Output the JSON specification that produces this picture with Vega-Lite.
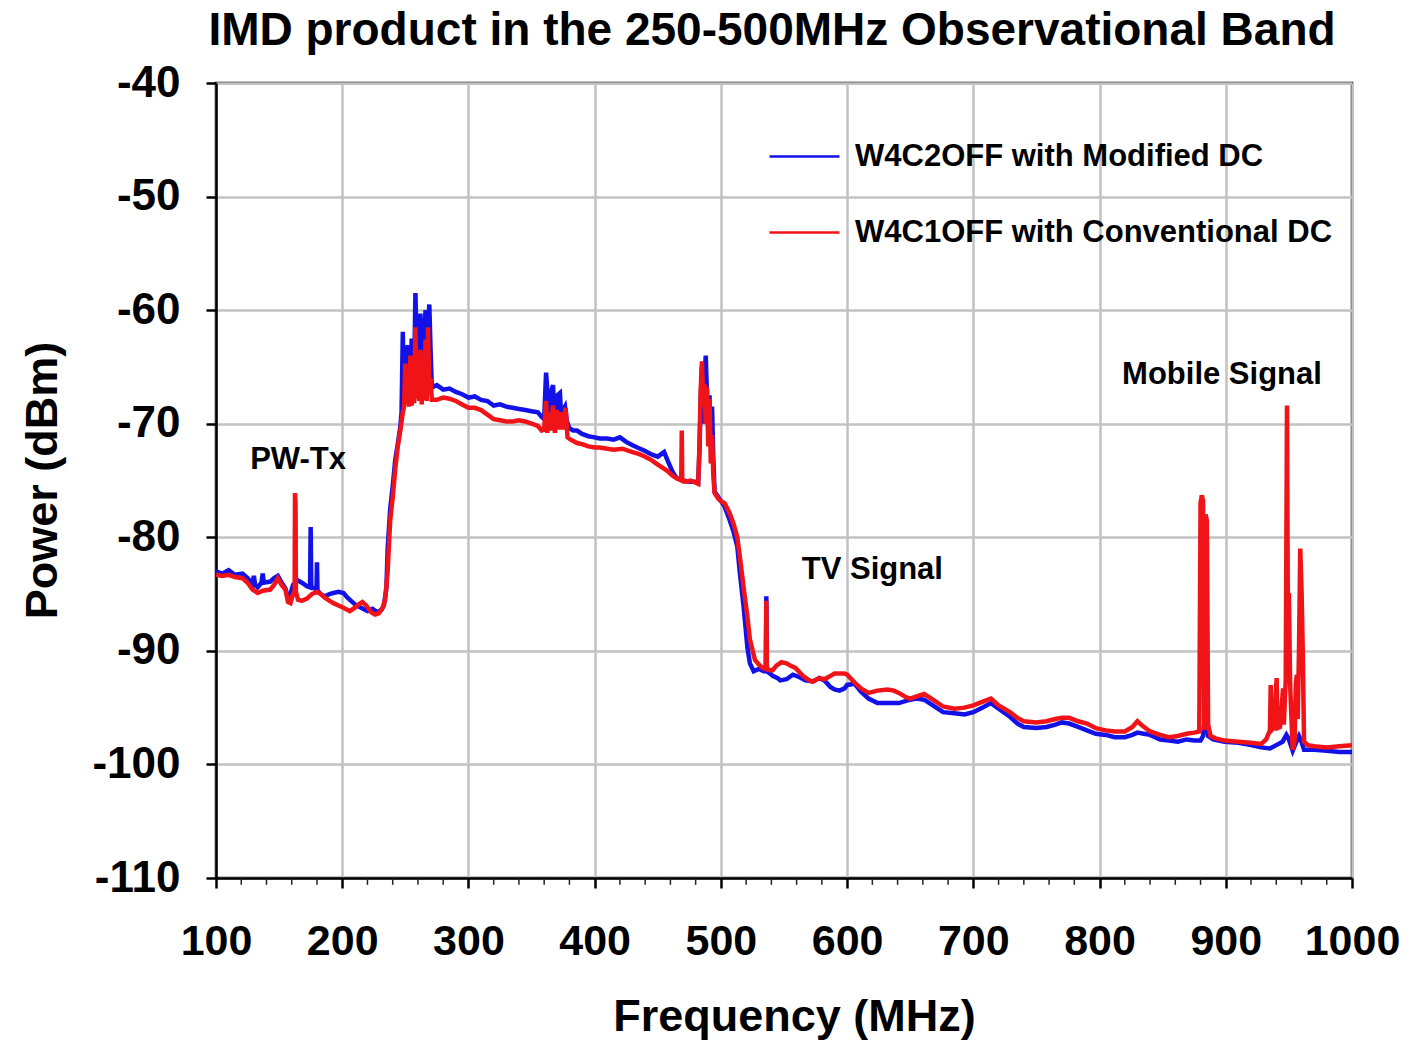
{
"$schema": "https://vega.github.io/schema/vega-lite/v6.json",
"width": 1136, "height": 795,
"autosize": {"type": "none"},
"padding": {"left": 216, "top": 83, "right": 71, "bottom": 162},
"background": "white",
"title": {"text": "IMD product in the 250-500MHz Observational Band", "font": "Liberation Sans", "fontSize": 46, "fontWeight": "bold", "color": "black", "anchor": "middle", "offset": 6, "dx": -12},
"config": {
  "font": "Liberation Sans",
  "view": {"stroke": "black", "strokeWidth": 2.5},
  "axis": {"gridColor": "#c2c2c2", "gridWidth": 2.5, "gridOpacity": 1, "domainColor": "black", "domainWidth": 2.5, "tickColor": "black", "tickWidth": 2.5, "labelColor": "black", "titleColor": "black", "labelFont": "Liberation Sans", "titleFont": "Liberation Sans", "labelFontWeight": "bold", "titleFontWeight": "bold"}
},
"datasets": {
  "blue": [
    {"f":100,"v":-83.0},{"f":105,"v":-83.2},{"f":110,"v":-82.9},{"f":115,"v":-83.3},{"f":121,"v":-83.2},{"f":125,"v":-83.6},{"f":129,"v":-84.1},{"f":130,"v":-83.4},{"f":131,"v":-84.2},{"f":133,"v":-84.4},{"f":136,"v":-84.0},{"f":137,"v":-83.2},{"f":138,"v":-84.0},{"f":143,"v":-83.9},{"f":146,"v":-83.6},{"f":149,"v":-83.4},{"f":152,"v":-84.0},{"f":155,"v":-84.5},{"f":157,"v":-85.3},{"f":159,"v":-85.0},{"f":161,"v":-84.2},{"f":163,"v":-84.0},{"f":165,"v":-83.8},{"f":168,"v":-84.0},{"f":172,"v":-84.3},{"f":174.5,"v":-84.4},{"f":175,"v":-79.1},{"f":175.5,"v":-84.4},{"f":178,"v":-84.5},{"f":179.6,"v":-84.6},{"f":180,"v":-82.2},{"f":180.4,"v":-84.7},{"f":183,"v":-85.0},{"f":186,"v":-85.2},{"f":190,"v":-85.0},{"f":193,"v":-84.9},{"f":197,"v":-84.8},{"f":201,"v":-84.9},{"f":204,"v":-85.3},{"f":207,"v":-85.6},{"f":211,"v":-86.0},{"f":215,"v":-86.2},{"f":220,"v":-86.5},{"f":224,"v":-86.3},{"f":228,"v":-86.6},{"f":231,"v":-86.4},{"f":233,"v":-86.0},{"f":235,"v":-84.5},{"f":236,"v":-81.0},{"f":238,"v":-77.5},{"f":240,"v":-75.5},{"f":242,"v":-73.2},{"f":244,"v":-71.8},{"f":246,"v":-70.3},{"f":247,"v":-69.0},{"f":248,"v":-61.9},{"f":248.6,"v":-67.8},{"f":250,"v":-67.5},{"f":251,"v":-63.5},{"f":252,"v":-63.1},{"f":253,"v":-67.2},{"f":254.5,"v":-66.5},{"f":255,"v":-62.5},{"f":256,"v":-66.8},{"f":257,"v":-65.5},{"f":258,"v":-58.5},{"f":259,"v":-63.5},{"f":260,"v":-66.2},{"f":261,"v":-64.0},{"f":262,"v":-60.3},{"f":263,"v":-65.5},{"f":264,"v":-66.5},{"f":265,"v":-62.5},{"f":266,"v":-60.0},{"f":267,"v":-65.0},{"f":268,"v":-62.0},{"f":269,"v":-59.5},{"f":270,"v":-63.5},{"f":271,"v":-66.8},{"f":275,"v":-66.6},{"f":280,"v":-67.0},{"f":285,"v":-66.9},{"f":290,"v":-67.2},{"f":295,"v":-67.4},{"f":300,"v":-67.7},{"f":305,"v":-67.6},{"f":310,"v":-67.9},{"f":315,"v":-68.0},{"f":320,"v":-68.4},{"f":325,"v":-68.3},{"f":330,"v":-68.5},{"f":335,"v":-68.6},{"f":340,"v":-68.7},{"f":345,"v":-68.8},{"f":350,"v":-68.9},{"f":355,"v":-69.0},{"f":358,"v":-69.4},{"f":360,"v":-69.6},{"f":361.5,"v":-65.5},{"f":362.5,"v":-67.0},{"f":363.5,"v":-69.8},{"f":365,"v":-67.5},{"f":367,"v":-66.6},{"f":368,"v":-69.0},{"f":369.5,"v":-70.2},{"f":370.5,"v":-67.5},{"f":372.5,"v":-67.3},{"f":373.5,"v":-69.5},{"f":375,"v":-68.8},{"f":376.5,"v":-68.5},{"f":378,"v":-69.8},{"f":380,"v":-70.4},{"f":383,"v":-70.6},{"f":386,"v":-70.6},{"f":390,"v":-70.9},{"f":395,"v":-71.1},{"f":400,"v":-71.2},{"f":404,"v":-71.3},{"f":410,"v":-71.3},{"f":415,"v":-71.4},{"f":420,"v":-71.2},{"f":425,"v":-71.6},{"f":430,"v":-71.9},{"f":436,"v":-72.2},{"f":440,"v":-72.4},{"f":445,"v":-72.7},{"f":450,"v":-72.9},{"f":455,"v":-72.5},{"f":458,"v":-73.3},{"f":462,"v":-74.3},{"f":465,"v":-74.8},{"f":470,"v":-75.0},{"f":475,"v":-75.1},{"f":480,"v":-75.1},{"f":482,"v":-75.2},{"f":483,"v":-72.5},{"f":484,"v":-68.0},{"f":485,"v":-65.0},{"f":486,"v":-70.0},{"f":487,"v":-66.0},{"f":488,"v":-64.0},{"f":489,"v":-67.5},{"f":490,"v":-70.5},{"f":491,"v":-67.5},{"f":492,"v":-72.0},{"f":493,"v":-68.5},{"f":494,"v":-73.0},{"f":495,"v":-76.0},{"f":497,"v":-76.3},{"f":500,"v":-76.8},{"f":503,"v":-77.3},{"f":507,"v":-78.5},{"f":510,"v":-79.5},{"f":513,"v":-80.8},{"f":515,"v":-83.1},{"f":518,"v":-86.1},{"f":521,"v":-89.7},{"f":523,"v":-91.1},{"f":526,"v":-91.8},{"f":530,"v":-91.6},{"f":534,"v":-91.8},{"f":535.6,"v":-91.8},{"f":536,"v":-85.2},{"f":536.4,"v":-91.8},{"f":539,"v":-92.0},{"f":541,"v":-92.2},{"f":545,"v":-92.4},{"f":547,"v":-92.6},{"f":552,"v":-92.5},{"f":557,"v":-92.1},{"f":562,"v":-92.3},{"f":567,"v":-92.6},{"f":573,"v":-92.7},{"f":578,"v":-92.4},{"f":582,"v":-92.6},{"f":587,"v":-93.2},{"f":590,"v":-93.4},{"f":594,"v":-93.5},{"f":598,"v":-93.3},{"f":600,"v":-93.0},{"f":606,"v":-92.9},{"f":611,"v":-93.6},{"f":617,"v":-94.2},{"f":624,"v":-94.6},{"f":632,"v":-94.6},{"f":641,"v":-94.6},{"f":650,"v":-94.3},{"f":655,"v":-94.2},{"f":661,"v":-94.3},{"f":668,"v":-94.8},{"f":676,"v":-95.4},{"f":685,"v":-95.5},{"f":693,"v":-95.6},{"f":700,"v":-95.4},{"f":707,"v":-95.0},{"f":714,"v":-94.6},{"f":720,"v":-95.1},{"f":729,"v":-95.8},{"f":735,"v":-96.4},{"f":740,"v":-96.7},{"f":750,"v":-96.8},{"f":758,"v":-96.7},{"f":765,"v":-96.5},{"f":770,"v":-96.3},{"f":776,"v":-96.4},{"f":783,"v":-96.7},{"f":790,"v":-97.0},{"f":797,"v":-97.3},{"f":805,"v":-97.4},{"f":812,"v":-97.6},{"f":820,"v":-97.6},{"f":826,"v":-97.4},{"f":830,"v":-97.2},{"f":835,"v":-97.3},{"f":840,"v":-97.4},{"f":848,"v":-97.8},{"f":855,"v":-97.9},{"f":862,"v":-98.0},{"f":869,"v":-97.8},{"f":875,"v":-97.9},{"f":880,"v":-97.9},{"f":882,"v":-97.5},{"f":884,"v":-95.2},{"f":885,"v":-96.5},{"f":886,"v":-97.5},{"f":890,"v":-97.8},{"f":899,"v":-98.0},{"f":910,"v":-98.1},{"f":920,"v":-98.3},{"f":928,"v":-98.5},{"f":935,"v":-98.6},{"f":940,"v":-98.3},{"f":945,"v":-98.0},{"f":948,"v":-97.4},{"f":950,"v":-97.8},{"f":953,"v":-98.8},{"f":956,"v":-98.0},{"f":958,"v":-97.5},{"f":960,"v":-98.0},{"f":962,"v":-98.7},{"f":970,"v":-98.7},{"f":980,"v":-98.8},{"f":990,"v":-98.9},{"f":1000,"v":-98.9}
  ],
  "red": [
    {"f":100,"v":-83.3},{"f":105,"v":-83.4},{"f":110,"v":-83.3},{"f":115,"v":-83.5},{"f":121,"v":-83.6},{"f":125,"v":-84.0},{"f":129,"v":-84.6},{"f":133,"v":-84.9},{"f":137,"v":-84.7},{"f":143,"v":-84.6},{"f":146,"v":-84.2},{"f":149,"v":-83.6},{"f":152,"v":-84.2},{"f":155,"v":-84.6},{"f":157,"v":-85.7},{"f":159,"v":-85.8},{"f":161,"v":-85.0},{"f":162.3,"v":-84.8},{"f":162.6,"v":-76.1},{"f":163,"v":-77.0},{"f":163.3,"v":-84.8},{"f":165,"v":-85.5},{"f":168,"v":-85.6},{"f":172,"v":-85.4},{"f":176,"v":-85.0},{"f":180,"v":-84.8},{"f":183,"v":-85.0},{"f":186,"v":-85.3},{"f":190,"v":-85.6},{"f":193,"v":-85.8},{"f":197,"v":-86.0},{"f":201,"v":-86.2},{"f":206,"v":-86.5},{"f":210,"v":-86.2},{"f":213,"v":-85.9},{"f":216,"v":-85.7},{"f":219,"v":-86.0},{"f":223,"v":-86.6},{"f":226,"v":-86.8},{"f":229,"v":-86.7},{"f":232,"v":-86.2},{"f":234,"v":-85.5},{"f":236,"v":-83.0},{"f":238,"v":-78.5},{"f":240,"v":-76.5},{"f":242,"v":-74.0},{"f":244,"v":-72.0},{"f":246,"v":-70.6},{"f":248,"v":-69.0},{"f":249,"v":-68.5},{"f":250,"v":-64.7},{"f":251,"v":-68.3},{"f":252,"v":-67.0},{"f":253,"v":-68.5},{"f":254,"v":-64.0},{"f":255,"v":-68.4},{"f":256,"v":-66.0},{"f":257,"v":-68.2},{"f":258,"v":-61.5},{"f":259,"v":-67.8},{"f":260,"v":-65.5},{"f":261,"v":-68.0},{"f":262,"v":-63.5},{"f":263,"v":-68.3},{"f":264,"v":-64.0},{"f":265,"v":-67.9},{"f":266,"v":-62.6},{"f":267,"v":-68.0},{"f":268,"v":-61.5},{"f":269,"v":-67.0},{"f":270,"v":-66.0},{"f":271,"v":-67.9},{"f":275,"v":-67.9},{"f":280,"v":-67.7},{"f":285,"v":-67.8},{"f":290,"v":-68.0},{"f":295,"v":-68.3},{"f":300,"v":-68.6},{"f":305,"v":-68.6},{"f":310,"v":-68.8},{"f":315,"v":-69.2},{"f":320,"v":-69.6},{"f":325,"v":-69.7},{"f":330,"v":-69.8},{"f":335,"v":-69.8},{"f":340,"v":-69.7},{"f":345,"v":-69.8},{"f":350,"v":-70.0},{"f":355,"v":-70.2},{"f":358,"v":-70.6},{"f":360,"v":-70.5},{"f":361.5,"v":-68.0},{"f":362.5,"v":-70.8},{"f":364,"v":-69.0},{"f":365,"v":-70.6},{"f":367,"v":-68.4},{"f":368.5,"v":-70.8},{"f":370,"v":-68.8},{"f":371.5,"v":-70.5},{"f":373,"v":-69.0},{"f":375,"v":-70.5},{"f":377,"v":-68.6},{"f":378.5,"v":-71.2},{"f":381,"v":-71.4},{"f":386,"v":-71.7},{"f":390,"v":-71.8},{"f":395,"v":-72.0},{"f":400,"v":-72.1},{"f":404,"v":-72.1},{"f":410,"v":-72.2},{"f":415,"v":-72.3},{"f":422,"v":-72.2},{"f":430,"v":-72.5},{"f":436,"v":-72.7},{"f":440,"v":-72.9},{"f":445,"v":-73.2},{"f":450,"v":-73.6},{"f":457,"v":-74.1},{"f":462,"v":-74.6},{"f":465,"v":-74.8},{"f":468.6,"v":-75.0},{"f":469,"v":-70.6},{"f":469.4,"v":-75.0},{"f":472,"v":-75.1},{"f":476,"v":-75.0},{"f":480,"v":-75.2},{"f":482,"v":-75.3},{"f":483,"v":-72.0},{"f":484,"v":-67.0},{"f":485,"v":-64.5},{"f":486,"v":-68.5},{"f":487,"v":-66.5},{"f":488,"v":-70.0},{"f":489,"v":-66.8},{"f":490,"v":-72.0},{"f":491,"v":-67.8},{"f":492,"v":-73.5},{"f":493,"v":-71.0},{"f":494,"v":-74.5},{"f":495,"v":-76.1},{"f":498,"v":-76.6},{"f":501,"v":-76.9},{"f":503,"v":-77.0},{"f":507,"v":-77.9},{"f":510,"v":-78.8},{"f":513,"v":-80.0},{"f":515,"v":-81.7},{"f":518,"v":-84.4},{"f":521,"v":-87.0},{"f":523,"v":-89.0},{"f":527,"v":-90.8},{"f":530,"v":-91.2},{"f":533,"v":-91.5},{"f":535.6,"v":-91.6},{"f":536,"v":-85.6},{"f":536.4,"v":-91.6},{"f":539,"v":-91.7},{"f":541,"v":-91.7},{"f":544,"v":-91.3},{"f":548,"v":-91.0},{"f":552,"v":-91.1},{"f":555,"v":-91.3},{"f":559,"v":-91.5},{"f":565,"v":-92.2},{"f":570,"v":-92.6},{"f":573,"v":-92.7},{"f":578,"v":-92.4},{"f":582,"v":-92.5},{"f":587,"v":-92.2},{"f":590,"v":-92.0},{"f":594,"v":-92.0},{"f":598,"v":-92.0},{"f":600,"v":-92.1},{"f":606,"v":-92.8},{"f":611,"v":-93.3},{"f":617,"v":-93.7},{"f":624,"v":-93.5},{"f":632,"v":-93.4},{"f":637,"v":-93.5},{"f":641,"v":-93.7},{"f":647,"v":-94.1},{"f":650,"v":-94.2},{"f":655,"v":-94.0},{"f":661,"v":-93.8},{"f":668,"v":-94.3},{"f":676,"v":-94.9},{"f":685,"v":-95.1},{"f":693,"v":-95.0},{"f":700,"v":-94.8},{"f":707,"v":-94.5},{"f":714,"v":-94.2},{"f":720,"v":-94.8},{"f":729,"v":-95.4},{"f":735,"v":-95.9},{"f":740,"v":-96.2},{"f":750,"v":-96.3},{"f":758,"v":-96.2},{"f":765,"v":-96.0},{"f":770,"v":-95.9},{"f":776,"v":-95.9},{"f":783,"v":-96.2},{"f":790,"v":-96.4},{"f":797,"v":-96.8},{"f":805,"v":-97.0},{"f":812,"v":-97.1},{"f":820,"v":-97.1},{"f":826,"v":-96.7},{"f":830,"v":-96.2},{"f":834,"v":-96.6},{"f":840,"v":-97.1},{"f":848,"v":-97.4},{"f":855,"v":-97.6},{"f":862,"v":-97.5},{"f":869,"v":-97.3},{"f":875,"v":-97.2},{"f":879,"v":-97.1},{"f":880,"v":-77.0},{"f":881,"v":-76.3},{"f":882,"v":-76.8},{"f":883,"v":-97.0},{"f":884,"v":-78.0},{"f":885,"v":-78.5},{"f":886,"v":-96.5},{"f":888,"v":-97.5},{"f":892,"v":-97.7},{"f":899,"v":-97.9},{"f":910,"v":-98.0},{"f":920,"v":-98.1},{"f":928,"v":-98.2},{"f":932,"v":-97.8},{"f":935,"v":-97.0},{"f":935.6,"v":-93.0},{"f":936.2,"v":-97.0},{"f":938,"v":-96.8},{"f":940.3,"v":-92.4},{"f":941,"v":-96.8},{"f":943,"v":-96.7},{"f":945.4,"v":-93.3},{"f":946,"v":-96.5},{"f":947.5,"v":-92.5},{"f":948.5,"v":-68.4},{"f":949.3,"v":-90.0},{"f":950,"v":-84.9},{"f":951,"v":-93.0},{"f":953,"v":-98.7},{"f":954.5,"v":-98.0},{"f":955.5,"v":-93.0},{"f":956.3,"v":-92.1},{"f":957,"v":-96.0},{"f":958,"v":-90.0},{"f":959,"v":-81.0},{"f":960,"v":-84.5},{"f":961,"v":-90.0},{"f":962,"v":-98.0},{"f":965,"v":-98.3},{"f":970,"v":-98.4},{"f":980,"v":-98.5},{"f":990,"v":-98.4},{"f":1000,"v":-98.3}
  ],
  "notes": [
    {"f":165,"v":-73.2,"t":"PW-Tx"},
    {"f":620,"v":-82.9,"t":"TV Signal"},
    {"f":897,"v":-65.7,"t":"Mobile Signal"}
  ],
  "minor": [
    {"f":120},{"f":140},{"f":160},{"f":180},{"f":220},{"f":240},{"f":260},{"f":280},{"f":320},{"f":340},{"f":360},{"f":380},{"f":420},{"f":440},{"f":460},{"f":480},{"f":520},{"f":540},{"f":560},{"f":580},{"f":620},{"f":640},{"f":660},{"f":680},{"f":720},{"f":740},{"f":760},{"f":780},{"f":820},{"f":840},{"f":860},{"f":880},{"f":920},{"f":940},{"f":960},{"f":980}
  ]
},
"layer": [
  {
    "data": {"name": "blue"},
    "mark": {"type": "line", "strokeWidth": 4.5, "clip": true},
    "encoding": {
      "x": {"field": "f", "type": "quantitative", "scale": {"domain": [100, 1000], "nice": false, "zero": false},
        "axis": {"title": "Frequency (MHz)", "values": [100,200,300,400,500,600,700,800,900,1000], "labelExpr": "'' + datum.value", "labelFontSize": 43, "labelPadding": 32, "tickSize": 10, "titleFontSize": 45, "titleX": 578, "titleY": 138, "titleAlign": "center", "titleBaseline": "middle", "labelFlush": false}},
      "y": {"field": "v", "type": "quantitative", "scale": {"domain": [-110, -40], "nice": false, "zero": false},
        "axis": {"title": "Power (dBm)", "values": [-110,-100,-90,-80,-70,-60,-50,-40], "labelExpr": "'' + datum.value", "labelFontSize": 44, "labelPadding": 26, "tickSize": 10, "titleFontSize": 45, "titleX": -174, "titleY": 397, "titleAlign": "center", "titleBaseline": "middle", "titleAngle": -90}},
      "color": {"datum": "W4C2OFF with Modified DC", "type": "nominal",
        "scale": {"domain": ["W4C2OFF with Modified DC", "W4C1OFF with Conventional DC"], "range": ["#1212e8", "#f01418"]},
        "legend": {"title": null, "orient": "none", "legendX": 552, "legendY": 37, "symbolType": "stroke", "symbolSize": 4900, "symbolStrokeWidth": 2.5, "labelFontSize": 31, "labelFontWeight": "bold", "labelColor": "black", "labelFont": "Liberation Sans", "labelOffset": 14, "rowPadding": 24, "padding": 0, "labelLimit": 600}}
    }
  },
  {
    "data": {"name": "red"},
    "mark": {"type": "line", "strokeWidth": 4.5, "clip": true},
    "encoding": {
      "x": {"field": "f", "type": "quantitative"},
      "y": {"field": "v", "type": "quantitative"},
      "color": {"datum": "W4C1OFF with Conventional DC", "type": "nominal"}
    }
  },
  {
    "data": {"name": "minor"},
    "mark": {"type": "rule", "color": "#222222", "strokeWidth": 1.5},
    "encoding": {
      "x": {"field": "f", "type": "quantitative"},
      "y": {"datum": -110},
      "y2": {"datum": -110.6}
    }
  },
  {
    "data": {"name": "notes"},
    "mark": {"type": "text", "font": "Liberation Sans", "fontSize": 31, "fontWeight": "bold", "color": "black", "align": "center", "baseline": "middle"},
    "encoding": {
      "x": {"field": "f", "type": "quantitative"},
      "y": {"field": "v", "type": "quantitative"},
      "text": {"field": "t"}
    }
  }
]
}
